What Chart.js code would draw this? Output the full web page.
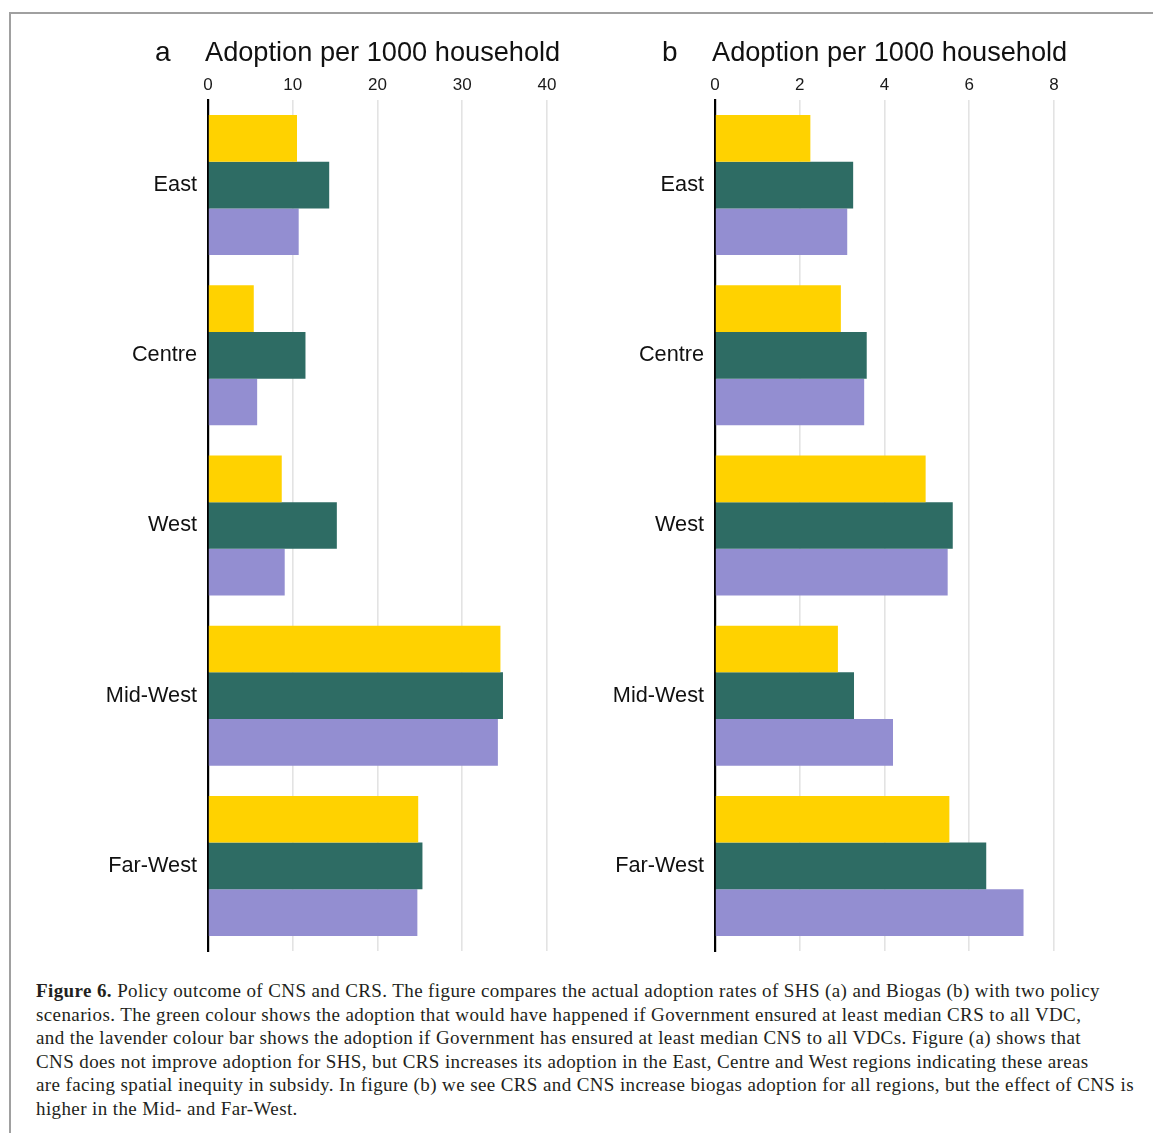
<!DOCTYPE html>
<html>
<head>
<meta charset="utf-8">
<script src="https://cdn.jsdelivr.net/npm/chart.js@4.4.1/dist/chart.umd.min.js"></script>
<style>
  html, body { margin: 0; padding: 0; background: #fff; }
  body { width: 1153px; height: 1133px; position: relative; overflow: hidden; }
  .frame { position: absolute; left: 9px; top: 12px; width: 1200px; height: 1200px;
           border-top: 2px solid #a0a0a0; border-left: 2px solid #a0a0a0; box-sizing: border-box; }
  .panel { position: absolute; top: 0; }
  .letter, .axis-title { position: absolute; font-family: "Liberation Sans", Arial, sans-serif;
           color: #111; line-height: 27px; white-space: nowrap; }
  .letter { font-size: 28px; }
  .axis-title { font-size: 27.2px; }
  .caption { position: absolute; left: 36px; top: 979px; width: 1120px;
             font-family: "Liberation Serif", "DejaVu Serif", serif; font-size: 19px;
             letter-spacing: 0.39px;
             line-height: 23.6px; color: #231f20; white-space: nowrap; }
  .caption b { font-weight: bold; }
</style>
</head>
<body>
<div class="frame"></div>

<div class="panel" style="left:0;width:580px;height:960px;"><canvas id="chartA"></canvas></div>
<div class="panel" style="left:580px;width:573px;height:960px;"><canvas id="chartB"></canvas></div>

<div class="letter" style="left:155px;top:38px;">a</div>
<div class="axis-title" style="left:205px;top:38px;">Adoption per 1000 household</div>
<div class="letter" style="left:662px;top:38px;">b</div>
<div class="axis-title" style="left:712px;top:38px;">Adoption per 1000 household</div>

<div class="caption">
<b>Figure 6.</b> Policy outcome of CNS and CRS. The figure compares the actual adoption rates of SHS (a) and Biogas (b) with two policy<br>
scenarios. The green colour shows the adoption that would have happened if Government ensured at least median CRS to all VDC,<br>
and the lavender colour bar shows the adoption if Government has ensured at least median CNS to all VDCs. Figure (a) shows that<br>
CNS does not improve adoption for SHS, but CRS increases its adoption in the East, Centre and West regions indicating these areas<br>
are facing spatial inequity in subsidy. In figure (b) we see CRS and CNS increase biogas adoption for all regions, but the effect of CNS is<br>
higher in the Mid- and Far-West.
</div>

<script>
// Regions (rows, top to bottom)
const regions = ['East', 'Centre', 'West', 'Mid-West', 'Far-West'];

// Panel a: solar home systems, adoption per 1000 households
const shsActual = [10.5, 5.4, 8.7, 34.5, 24.8];
const shsMedianCRS = [14.3, 11.5, 15.2, 34.8, 25.3];
const shsMedianCNS = [10.7, 5.8, 9.05, 34.2, 24.7];
const shsTicks = [0, 10, 20, 30, 40];
const shsMax = 42;

// Panel b: biogas, adoption per 1000 households
const bioActual = [2.25, 2.97, 4.97, 2.90, 5.53];
const bioMedianCRS = [3.26, 3.58, 5.61, 3.28, 6.40];
const bioMedianCNS = [3.12, 3.52, 5.49, 4.20, 7.28];
const bioTicks = [0, 2, 4, 6, 8];
const bioMax = 8.4;

const COLOR_ACTUAL = 'rgb(255,210,0)';
const COLOR_CRS = 'rgb(46,108,100)';
const COLOR_CNS = 'rgb(147,142,209)';

function makeChart(id, actual, crs, cns, tickValues, xMax, axisWidth, padRight) {
  const ctx = document.getElementById(id);
  return new Chart(ctx, {
    type: 'bar',
    data: {
      labels: regions,
      datasets: [
        { label: 'Actual', data: actual, backgroundColor: COLOR_ACTUAL },
        { label: 'Median CRS', data: crs, backgroundColor: COLOR_CRS },
        { label: 'Median CNS', data: cns, backgroundColor: COLOR_CNS }
      ]
    },
    options: {
      indexAxis: 'y',
      responsive: true,
      maintainAspectRatio: false,
      animation: false,
      layout: { padding: { top: 0, bottom: 9, left: 0, right: padRight } },
      datasets: { bar: { categoryPercentage: 0.8226, barPercentage: 1.0, borderWidth: 0 } },
      plugins: { legend: { display: false }, tooltip: { enabled: false } },
      scales: {
        x: {
          type: 'linear',
          position: 'top',
          min: 0,
          max: xMax,
          afterBuildTicks: (scale) => { scale.ticks = tickValues.map(v => ({ value: v })); },
          afterFit: (scale) => { scale.height = 100; },
          grid: { color: '#e3e3e3', lineWidth: 1.6, drawTicks: false },
          border: { display: false },
          ticks: {
            padding: 4,
            color: '#1a1a1a',
            font: { family: '"Liberation Sans", Arial, sans-serif', size: 17 }
          }
        },
        y: {
          type: 'category',
          afterFit: (scale) => {
            scale.width = axisWidth;
            scale.paddingTop = 0;
            scale.paddingBottom = 0;
          },
          grid: { display: false, drawTicks: false },
          border: { display: true, color: '#000', width: 2.2 },
          ticks: {
            padding: 11,
            color: '#111',
            font: { family: '"Liberation Sans", Arial, sans-serif', size: 21.7 }
          }
        }
      }
    }
  });
}

makeChart('chartA', shsActual, shsMedianCRS, shsMedianCNS, shsTicks, shsMax, 208, 16);
makeChart('chartB', bioActual, bioMedianCRS, bioMedianCNS, bioTicks, bioMax, 135, 82);
</script>
</body>
</html>
